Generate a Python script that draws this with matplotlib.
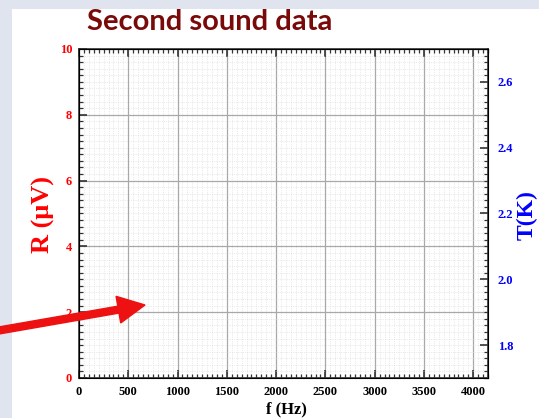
import matplotlib.pyplot as plt
from matplotlib.ticker import MultipleLocator
from matplotlib.patches import Rectangle, FancyArrow

# -----------------------------
# Axis data (empty chart)
# -----------------------------
f_limits = [0, 4150]
f_ticks = [0, 500, 1000, 1500, 2000, 2500, 3000, 3500, 4000]
r_limits = [0, 10]
r_ticks = [0, 2, 4, 6, 8, 10]
t_limits = [1.70, 2.70]
t_ticks = [1.8, 2.0, 2.2, 2.4, 2.6]
t_tick_labels = ["1.8", "2.0", "2.2", "2.4", "2.6"]

title = "Second sound data"
x_label = "f (Hz)"
r_label = "R (μV)"
t_label = "T(K)"
serif = "Liberation Serif"

fig = plt.figure(figsize=(5.39, 4.18), dpi=100)
fig.patch.set_facecolor("#dfe4ef")
W, H = 539, 418

# white slide panel
fig.patches.append(Rectangle((12 / W, 0), 1 - 12 / W, 1 - 9 / H,
                             transform=fig.transFigure, facecolor="white",
                             edgecolor="none", zorder=-5))

ax = fig.add_axes([79 / W, 1 - 378 / H, (488 - 79) / W, (378 - 49) / H])
ax.set_xlim(f_limits)
ax.set_ylim(r_limits)
ax.set_xticks(f_ticks)
ax.set_yticks(r_ticks)
ax.xaxis.set_minor_locator(MultipleLocator(50))
ax.yaxis.set_minor_locator(MultipleLocator(0.2))

ax.grid(True, which="major", color="#a8a8a8", linewidth=0.9)
ax.grid(True, which="minor", color="#d8d8d8", linewidth=0.5, linestyle=":")
ax.set_axisbelow(True)

ax.tick_params(axis="both", which="major", direction="in", length=6, width=1.2,
               color="#333333", top=True)
ax.tick_params(axis="both", which="minor", direction="in", length=3, width=0.9,
               color="#333333", top=True)
ax.tick_params(axis="x", pad=6)
ax.tick_params(axis="y", right=False, which="both", pad=5)
for lab in ax.get_xticklabels():
    lab.set_fontfamily(serif)
    lab.set_fontweight("bold")
    lab.set_fontsize(9)
for lab in ax.get_yticklabels():
    lab.set_fontfamily(serif)
    lab.set_fontweight("bold")
    lab.set_fontsize(9)
    lab.set_color("red")
for s in ax.spines.values():
    s.set_color("#333333")
    s.set_linewidth(1.2)

ax2 = ax.twinx()
ax2.set_ylim(t_limits)
ax2.set_yticks(t_ticks)
ax2.set_yticklabels(t_tick_labels, color="blue", fontsize=9,
                    fontweight="bold", fontfamily=serif)
ax2.yaxis.set_minor_locator(MultipleLocator(0.02))
ax2.tick_params(axis="y", which="major", direction="in", length=6, width=1.2,
                color="#333333", pad=7)
ax2.tick_params(axis="y", which="minor", direction="in", length=3, width=0.9,
                color="#333333")

# axis titles placed like on the slide
fig.text(43 / W, 1 - 215 / H, r_label, color="red", fontsize=19,
         fontweight="bold", fontfamily=serif, rotation=90,
         ha="center", va="center")
fig.text(527 / W, 1 - 215 / H, t_label, color="blue", fontsize=17,
         fontweight="bold", fontfamily=serif, rotation=90,
         ha="center", va="center")
fig.text(286 / W, 1 - 409 / H, x_label, color="black", fontsize=12,
         fontweight="bold", fontfamily=serif, ha="center", va="center")

fig.text(210 / W, 1 - 22 / H, title, color="#7a0a0a", fontsize=21,
         fontweight="bold", fontfamily="Lato", ha="center", va="center")

# red pointer arrow (display pixels, origin bottom-left)
tail = (-4, H - 331)
tip = (145, H - 305)
fig.patches.append(FancyArrow(tail[0], tail[1], tip[0] - tail[0], tip[1] - tail[1],
                              width=7, head_width=27, head_length=27,
                              length_includes_head=True, color="#ee1111",
                              transform=None, zorder=10))

fig.savefig("out.png", dpi=100)
